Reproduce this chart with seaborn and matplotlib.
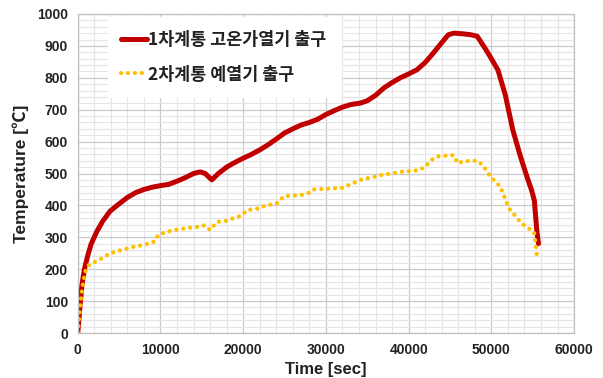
import matplotlib
matplotlib.use("Agg")
import matplotlib.pyplot as plt
from matplotlib.ticker import MultipleLocator
import pandas as pd
import seaborn as sns

# Primary loop: high-temperature heater outlet
red_t = [0, 250, 500, 800, 1200, 1600, 2300, 3000, 3900, 5000, 6000, 7000,
         8000, 9000, 10000, 11000, 12000, 13000, 14000, 14800, 15400, 16200,
         17000, 18000, 18800, 20000, 21000, 22000, 23000, 24000, 25000, 26000,
         27000, 28000, 29000, 30000, 31000, 32000, 33000, 34200, 35000, 36000,
         37000, 38000, 39000, 40000, 41000, 42000, 43000, 44000, 44800, 45500,
         46500, 47500, 48300, 49300, 50000, 50800, 51700, 52600, 53500, 54300,
         54900, 55200, 55500, 55700]
red_T = [0, 80, 150, 200, 242, 278, 318, 350, 382, 405, 425, 440,
         450, 457, 462, 466, 476, 487, 500, 505, 500, 480,
         500, 520, 532, 548, 560, 574, 590, 608, 627, 640,
         652, 660, 670, 685, 697, 708, 716, 721, 728, 745,
         768, 785, 800, 812, 825, 848, 878, 910, 935, 940,
         938, 935, 930, 890, 860, 824, 745, 636, 555, 490,
         445, 415, 320, 280]

# Secondary loop: preheater outlet
yel_t = [0, 200, 400, 600, 800, 1000, 1400, 2000, 3000, 3900, 5000, 6700,
         8000, 9100, 9400, 9700, 10500, 11500, 13200, 14000, 14800, 15300,
         16000, 16800, 18000, 18800, 19800, 20500, 21500, 22900, 24000, 24900,
         25500, 26900, 28000, 28500, 30000, 32000, 34200, 35000, 36000, 36600,
         38000, 39000, 40000, 41100, 42000, 42700, 43500, 44500, 45100, 45500,
         45900, 46500, 47500, 48300, 49000, 49900, 50500, 51100, 51500, 52100,
         52800, 53600, 54400, 55150, 55350, 55450, 55550]
yel_T = [0, 60, 110, 150, 180, 200, 215, 222, 235, 250, 258, 270,
         276, 285, 290, 307, 315, 322, 329, 332, 333, 338,
         323, 348, 352, 360, 368, 386, 388, 401, 405, 428,
         430, 432, 440, 450, 452, 455, 480, 485, 490, 495,
         500, 505, 507, 510, 520, 542, 553, 556, 558, 556,
         532, 537, 540, 540, 525, 489, 475, 458, 432, 392,
         370, 345, 330, 317, 282, 254, 229]

labels = ["1차계통 고온가열기 출구", "2차계통 예열기 출구"]
x_ticks = [0, 10000, 20000, 30000, 40000, 50000, 60000]
y_ticks = [0, 100, 200, 300, 400, 500, 600, 700, 800, 900, 1000]

red_df = pd.DataFrame({"t": red_t, "T": red_T})
yel_df = pd.DataFrame({"t": yel_t, "T": yel_T})

sns.set_style("white")
plt.rcParams["font.family"] = ["Liberation Sans", "Noto Sans CJK KR", "DejaVu Sans"]

fig = plt.figure(figsize=(6.03, 3.78), dpi=100)
ax = fig.add_axes([0.129, 0.119, 0.823, 0.844])

sns.lineplot(data=red_df, x="t", y="T", ax=ax, sort=False, estimator=None,
             color="#C00000", linewidth=3.6, label=labels[0],
             solid_capstyle="round", solid_joinstyle="round")
sns.lineplot(data=yel_df, x="t", y="T", ax=ax, sort=False, estimator=None,
             color="#FFC000", linewidth=3.1, label=labels[1],
             linestyle=(0, (0.01, 1.6)), dash_capstyle="round")

ax.set_xlim(0, 60000)
ax.set_ylim(0, 1000)
ax.set_xticks(x_ticks)
ax.set_yticks(y_ticks)
ax.set_xticklabels([str(v) for v in x_ticks])
ax.set_yticklabels([str(v) for v in y_ticks])
ax.xaxis.set_minor_locator(MultipleLocator(2000))
ax.yaxis.set_minor_locator(MultipleLocator(20))

ax.grid(which="minor", color="#e5e5e5", linewidth=0.8)
ax.grid(which="major", color="#cacaca", linewidth=0.9)
ax.set_axisbelow(True)
for s in ax.spines.values():
    s.set_color("#c0c0c0")
    s.set_linewidth(0.9)

ax.tick_params(axis="both", which="major", direction="out", length=4,
               color="#b0b0b0", labelsize=10, pad=3)
ax.tick_params(axis="both", which="minor", length=0)
for lab in ax.get_xticklabels() + ax.get_yticklabels():
    lab.set_fontweight("bold")
    lab.set_color("#222222")

ax.set_xlabel("Time [sec]", fontsize=12, fontweight="bold", color="#222222", labelpad=4)
ax.set_ylabel("Temperature [℃]", fontsize=12.5, fontweight="bold", color="#222222", labelpad=6)

leg = ax.legend(loc="upper left", bbox_to_anchor=(0.06, 0.99), frameon=True,
                prop={"family": ["Noto Sans CJK KR"], "weight": "bold", "size": 12.5},
                handlelength=1.5, handletextpad=0.05, labelspacing=0.95,
                borderpad=0.8, borderaxespad=0.0, fancybox=False)
leg.get_frame().set_facecolor("white")
leg.get_frame().set_edgecolor("white")
leg.get_frame().set_alpha(1.0)
for txt in leg.get_texts():
    txt.set_color("#222222")

fig.savefig("out.png", dpi=100, facecolor="white")
